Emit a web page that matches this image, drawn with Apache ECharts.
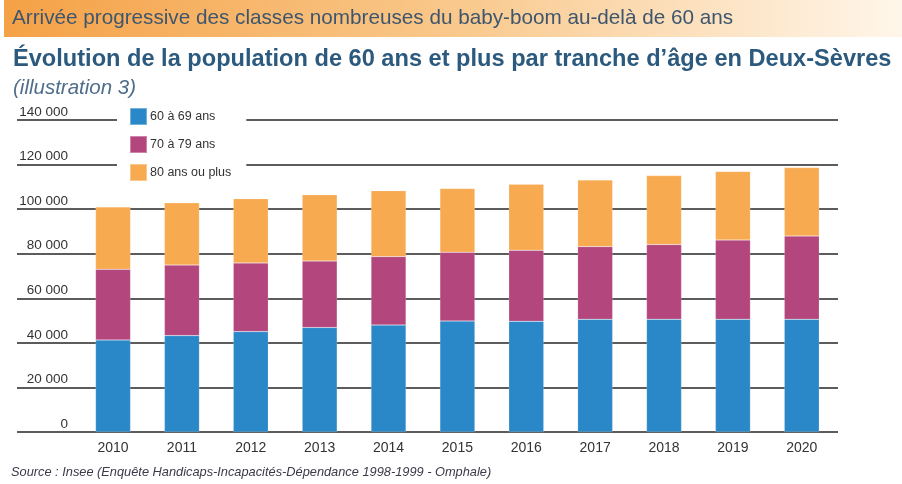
<!DOCTYPE html>
<html>
<head>
<meta charset="utf-8">
<script src="https://cdn.jsdelivr.net/npm/echarts@6/dist/echarts.min.js"></script>
<style>
  html, body { margin: 0; padding: 0; background: #fff; }
  #chart { width: 902px; height: 484px; }
</style>
</head>
<body>
<div id="chart"></div>
<script>
var years = ['2010', '2011', '2012', '2013', '2014', '2015', '2016', '2017', '2018', '2019', '2020'];
var ages60to69 = [41300, 43250, 45050, 46900, 48000, 49800, 49700, 50600, 50600, 50600, 50600];
var ages70to79 = [31700, 31650, 30800, 29800, 30700, 30850, 31850, 32600, 33500, 35550, 37350];
var ages80plus = [28000, 27950, 28850, 29800, 29600, 28600, 29600, 29900, 30950, 30700, 30700];
var seriesNames = ['60 à 69 ans', '70 à 79 ans', '80 ans ou plus'];
var seriesColors = ['#2a88c8', '#b3467c', '#f7aa50'];

var font = 'Liberation Sans, Arial, sans-serif';

var barStyle = {
    borderColor: 'rgba(255,255,255,0.35)',
    borderWidth: 0.5
};

function makeSeries(name, values, color) {
    return {
        name: name,
        type: 'bar',
        stack: 'total',
        xAxisIndex: 1,
        yAxisIndex: 1,
        barWidth: 35,
        itemStyle: Object.assign({ color: color }, barStyle),
        data: values
    };
}

var option = {
    animation: false,
    backgroundColor: '#fff',
    textStyle: { fontFamily: font },
    graphic: [
        {
            type: 'rect',
            shape: { x: 4, y: 0, width: 898, height: 37 },
            silent: true,
            style: {
                fill: new echarts.graphic.LinearGradient(0, 0, 1, 0, [
                    { offset: 0, color: '#f5a146' },
                    { offset: 0.5, color: '#f9c88b' },
                    { offset: 1, color: '#fff6ea' }
                ])
            }
        }
    ],
    title: [
        {
            text: 'Arrivée progressive des classes nombreuses du baby-boom au-delà de 60 ans',
            left: 12, top: 8, padding: 0,
            textStyle: { fontFamily: font, fontSize: 20.7, fontWeight: 'normal', color: '#3d566e' }
        },
        {
            text: 'Évolution de la population de 60 ans et plus par tranche d\u2019âge en Deux-Sèvres',
            left: 13, top: 47, padding: 0,
            textStyle: { fontFamily: font, fontSize: 23.6, fontWeight: 'bold', color: '#2c5a7e' }
        },
        {
            text: '(illustration 3)',
            left: 13, top: 78, padding: 0,
            textStyle: { fontFamily: font, fontSize: 20.5, fontStyle: 'italic', fontWeight: 'normal', color: '#4f6d8a' }
        },
        {
            text: 'Source : Insee (Enquête Handicaps-Incapacités-Dépendance 1998-1999 - Omphale)',
            left: 11, top: 466, padding: 0,
            textStyle: { fontFamily: font, fontSize: 12.8, fontStyle: 'italic', fontWeight: 'normal', color: '#3a3a4a' }
        }
    ],
    legend: {
        orient: 'vertical',
        left: 117, top: 104,
        padding: [3, 15, 3, 12],
        backgroundColor: '#fff',
        itemWidth: 17, itemHeight: 17, itemGap: 9,
        icon: 'rect',
        selectedMode: false,
        textStyle: { fontFamily: font, fontSize: 12.5, color: '#333', padding: [0, 0, 0, -2] },
        data: seriesNames
    },
    grid: [
        { left: 17, right: 64, top: 120, bottom: 52, containLabel: false },
        { left: 78.6, right: 65.8, top: 120, bottom: 52, containLabel: false }
    ],
    xAxis: [
        { type: 'value', gridIndex: 0, min: 0, max: 1, show: false },
        {
            type: 'category', gridIndex: 1, data: years,
            axisLine: { show: false }, axisTick: { show: false },
            axisLabel: { fontFamily: font, fontSize: 14, color: '#333', margin: 9 }
        }
    ],
    yAxis: [
        {
            type: 'value', gridIndex: 0, min: 0, max: 140000, interval: 20000,
            axisLine: { show: false }, axisTick: { show: false },
            splitLine: { lineStyle: { color: '#262626', width: 1.6 } },
            axisLabel: {
                inside: true, margin: 51, align: 'right', verticalAlign: 'bottom',
                fontFamily: font, fontSize: 13.5, color: '#333', padding: [0, 0, 1, 0],
                formatter: function (v) { return v === 0 ? '0' : String(v).replace(/\B(?=(\d{3})+(?!\d))/g, ' '); }
            }
        },
        { type: 'value', gridIndex: 1, min: 0, max: 140000, interval: 20000, show: false, splitLine: { show: false } }
    ],
    series: [
        makeSeries(seriesNames[0], ages60to69, seriesColors[0]),
        makeSeries(seriesNames[1], ages70to79, seriesColors[1]),
        makeSeries(seriesNames[2], ages80plus, seriesColors[2])
    ]
};

var myChart = echarts.init(document.getElementById('chart'));
myChart.setOption(option);
</script>
</body>
</html>
